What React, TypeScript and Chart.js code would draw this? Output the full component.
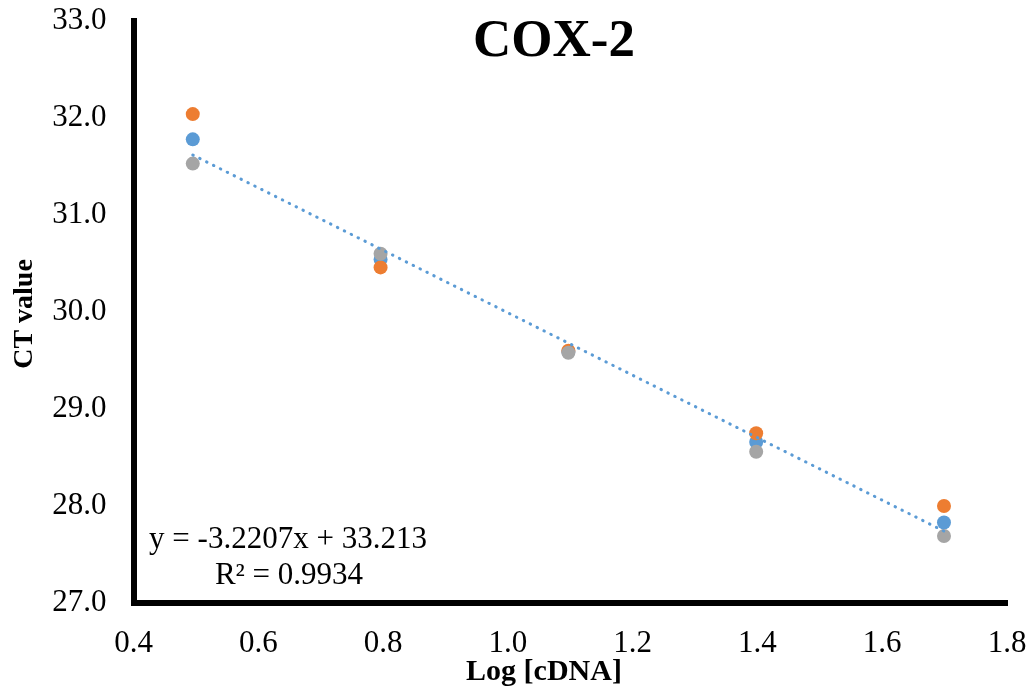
import React, { useEffect, useRef } from "react";
import { Chart, registerables } from "chart.js";

Chart.register(...registerables);

const xValues = [0.495, 0.796, 1.097, 1.398, 1.699];
const seriesOrange = [32.04, 30.46, 29.6, 28.75, 28.0];
const seriesBlue = [31.78, 30.54, 29.59, 28.66, 27.83];
const seriesGray = [31.53, 30.6, 29.58, 28.56, 27.69];
const trendSlope = -3.2207;
const trendIntercept = 33.213;
const trendX = [0.495, 1.699];
const titleText = "COX-2";
const xTitle = "Log [cDNA]";
const yTitle = "CT value";
const eqLine1 = "y = -3.2207x + 33.213";
const eqLine2 = "R² = 0.9934";

const FONT = "'Liberation Serif', 'Times New Roman', serif";

const textPlugin = {
  id: "textPlugin",
  afterDraw(chart: any) {
    const ctx = chart.ctx;
    ctx.save();
    ctx.fillStyle = "#000";
    ctx.textAlign = "center";
    ctx.textBaseline = "middle";
    ctx.font = `bold 53px ${FONT}`;
    ctx.fillText(titleText, 554, 42);
    ctx.font = `bold 30px ${FONT}`;
    ctx.fillText(xTitle, 544, 672);
    ctx.save();
    ctx.translate(25, 314);
    ctx.rotate(-Math.PI / 2);
    ctx.font = `bold 28px ${FONT}`;
    ctx.fillText(yTitle, 0, 0);
    ctx.restore();
    ctx.font = `31px ${FONT}`;
    ctx.fillText(eqLine1, 288, 540);
    ctx.fillText(eqLine2, 289, 576);
    ctx.restore();
  },
};

export default function App() {
  const ref = useRef<HTMLCanvasElement | null>(null);
  useEffect(() => {
    document.body.style.margin = "0";
    const mk = (ys: number[]) => xValues.map((x, i) => ({ x, y: ys[i] }));
    const trend = trendX.map((x) => ({ x, y: trendSlope * x + trendIntercept }));
    const chart = new Chart(ref.current as HTMLCanvasElement, {
      type: "scatter",
      data: {
        datasets: [
          {
            type: "line",
            label: "Linear",
            data: trend,
            borderColor: "#5B9BD5",
            borderWidth: 3,
            borderDash: [0.5, 7.2],
            borderCapStyle: "round",
            pointRadius: 0,
            fill: false,
            order: 0,
          } as any,
          {
            label: "Gray",
            data: mk(seriesGray),
            backgroundColor: "#A5A5A5",
            borderWidth: 0,
            pointRadius: 7,
            order: 1,
          },
          {
            label: "Orange",
            data: mk(seriesOrange),
            backgroundColor: "#ED7D31",
            borderWidth: 0,
            pointRadius: 7,
            order: 2,
          },
          {
            label: "Blue",
            data: mk(seriesBlue),
            backgroundColor: "#5B9BD5",
            borderWidth: 0,
            pointRadius: 7,
            order: 3,
          },
        ],
      },
      options: {
        animation: false,
        responsive: false,
        devicePixelRatio: 1,
        layout: { padding: { top: 21, right: 28, left: 0, bottom: 33 } },
        plugins: { legend: { display: false }, tooltip: { enabled: false }, title: { display: false } },
        scales: {
          x: {
            type: "linear",
            min: 0.4,
            max: 1.8,
            grid: { display: false, drawTicks: false },
            border: { display: true, color: "#000", width: 6 },
            ticks: {
              stepSize: 0.2,
              color: "#000",
              padding: 22,
              font: { family: FONT, size: 31 },
              callback: (v: any) => Number(v).toFixed(1),
            },
            afterFit: (s: any) => {
              s.height = 60;
              s.paddingLeft = 0;
              s.paddingRight = 0;
            },
          },
          y: {
            type: "linear",
            min: 27,
            max: 33,
            grid: { display: false, drawTicks: false },
            border: { display: true, color: "#000", width: 6 },
            ticks: {
              stepSize: 1,
              color: "#000",
              padding: 27,
              font: { family: FONT, size: 31 },
              callback: (v: any) => Number(v).toFixed(1),
            },
            afterFit: (s: any) => {
              s.width = 133.5;
              s.paddingTop = 0;
              s.paddingBottom = 0;
            },
          },
        },
      },
      plugins: [textPlugin],
    });
    return () => chart.destroy();
  }, []);
  return (
    <div style={{ position: "fixed", left: 0, top: 0, width: 1035, height: 696, background: "#fff" }}>
      <canvas ref={ref} width={1035} height={696} style={{ width: 1035, height: 696, display: "block" }} />
    </div>
  );
}
